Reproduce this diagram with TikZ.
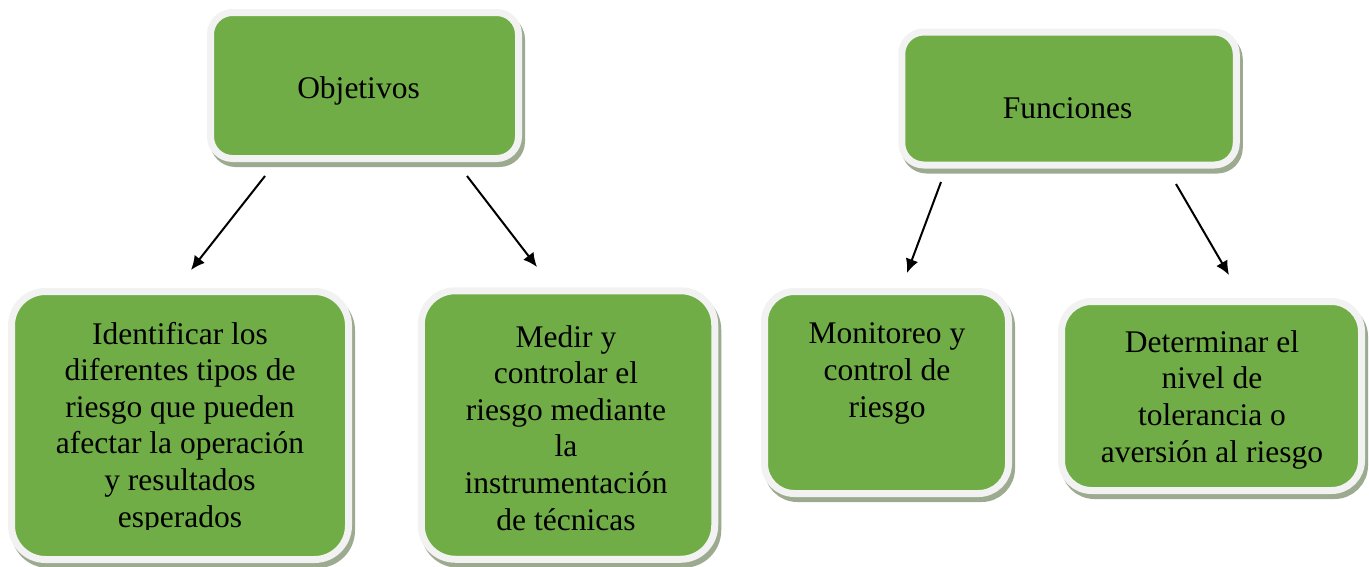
\documentclass[tikz,border=0pt]{standalone}
\usepackage{fontspec}
\setmainfont{Liberation Serif}
\usetikzlibrary{shadows,arrows.meta}
\definecolor{boxgreen}{HTML}{70AD47}
\definecolor{rimgray}{HTML}{F2F2F2}
\definecolor{shadowc}{HTML}{9CAA90}
\tikzset{
  gbox/.style={rectangle, fill=boxgreen, draw=rimgray, line width=7pt,
    rounded corners=#1, inner sep=0pt,
    drop shadow={shadow xshift=3pt, shadow yshift=-5pt, fill=shadowc, draw=shadowc, line width=7pt, opacity=1}},
  gtext/.style={align=center, inner sep=0pt, font=\fontsize{31.5pt}{36.6pt}\selectfont, anchor=base},
  conn/.style={line width=2pt, -{Latex[length=14pt,width=13pt]}}
}
\begin{document}
\begin{tikzpicture}[x=1pt,y=-1pt]
\useasboundingbox (0,0) rectangle (1369,566);
% boxes
\node[gbox=22pt, minimum width=308pt, minimum height=146pt] (obj) at (364.5,85.5) {};
\node[gbox=22pt, minimum width=334.5pt, minimum height=133pt] (fun) at (1069,98.5) {};
\node[gbox=34pt, minimum width=337pt, minimum height=268pt] (ide) at (180,425.5) {};
\node[gbox=34pt, minimum width=293.5pt, minimum height=268.5pt] (med) at (568,425) {};
\node[gbox=30pt, minimum width=244pt, minimum height=202pt] (mon) at (886.5,392.5) {};
\node[gbox=30pt, minimum width=300pt, minimum height=189pt] (det) at (1211.5,396) {};
% texts (base anchor = baseline of last line)
\node[gtext] (tobj) at (358.5,98) {Objetivos};
\node[gtext] (tfun) at (1067.5,118) {Funciones};
\begin{scope}
\clip (0,0) rectangle (1369,529);
\node[gtext] (tide) at (180,527) {Identificar los\\diferentes tipos de\\riesgo que pueden\\afectar la operación\\y resultados\\esperados};
\end{scope}
\node[gtext] (tmed) at (566,530) {Medir y\\controlar el\\riesgo mediante\\la\\instrumentación\\de técnicas};
\node[gtext] (tmon) at (887,417) {Monitoreo y\\control de\\riesgo};
\node[gtext] (tdet) at (1212,462) {Determinar el\\nivel de\\tolerancia o\\aversión al riesgo};
% connectors
\coordinate (a1s) at (265,176); \coordinate (a1e) at (191,270);
\coordinate (a2s) at (467,176); \coordinate (a2e) at (537,267);
\coordinate (a3s) at (941,182); \coordinate (a3e) at (907,273);
\coordinate (a4s) at (1176,184); \coordinate (a4e) at (1229,275);
\draw[conn] (a1s) -- (a1e);
\draw[conn] (a2s) -- (a2e);
\draw[conn] (a3s) -- (a3e);
\draw[conn] (a4s) -- (a4e);
\end{tikzpicture}
\end{document}
